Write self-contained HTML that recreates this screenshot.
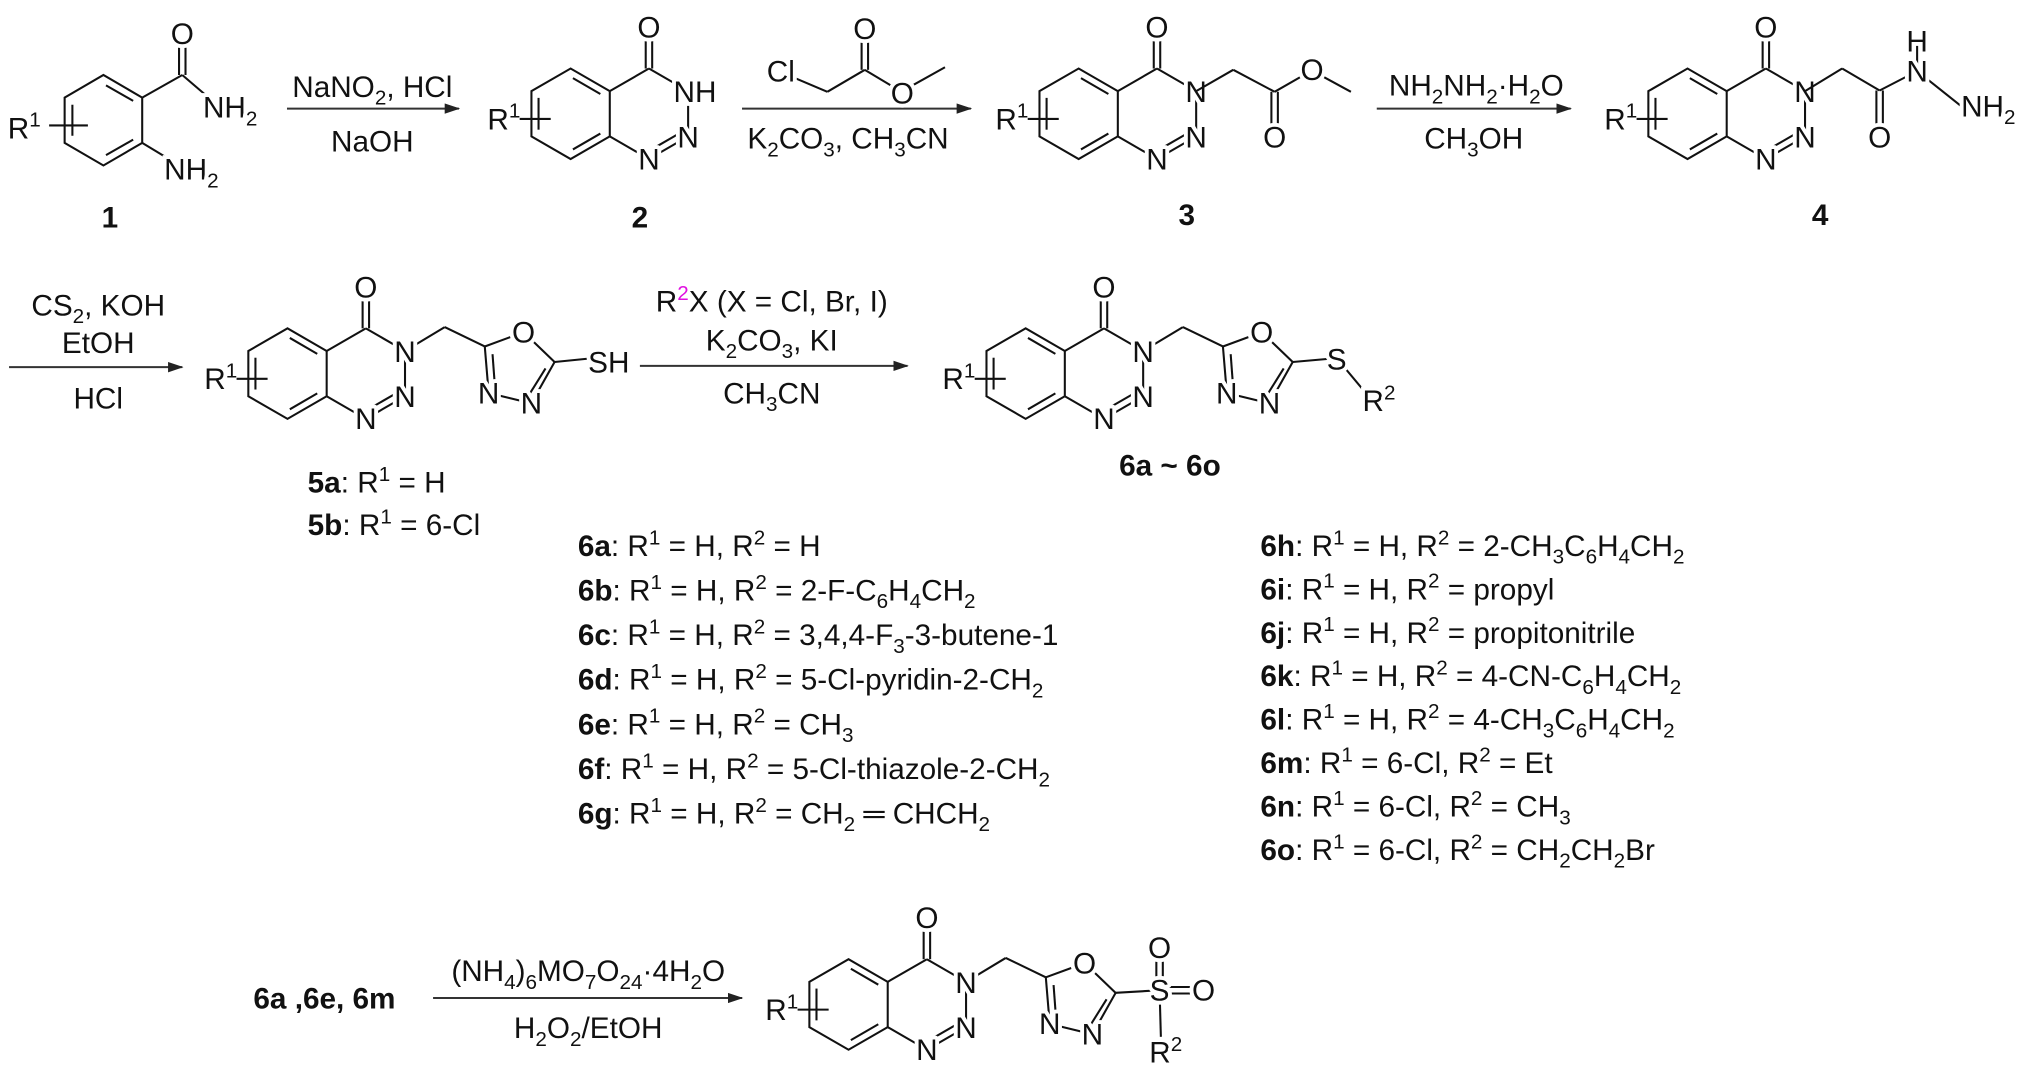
<!DOCTYPE html>
<html><head><meta charset="utf-8"><style>
html,body{margin:0;padding:0;background:#fff;}
svg{display:block;}
text{font-family:"Liberation Sans",Arial,sans-serif;font-size:23px;fill:#111;}
.a{paint-order:stroke;stroke:#fff;stroke-width:6px;stroke-linejoin:round;text-anchor:middle;}
.b{font-weight:bold;}
.m{text-anchor:middle;}
line,polyline{stroke:#111;stroke-width:1.6;fill:none;}
.ar{stroke:#333;stroke-width:1.6;}
</style></head><body>
<svg width="2027" height="1073" viewBox="0 0 1568 830" xmlns="http://www.w3.org/2000/svg">
<defs>
<marker id="ah" viewBox="0 0 12 8" refX="11" refY="4" markerWidth="12" markerHeight="8" markerUnits="userSpaceOnUse" orient="auto"><path d="M0,0 L12,4 L0,8 Z" fill="#222"/></marker>
<g id="core">
<polyline points="-30.3,-17.5 -60.6,-35 -90.9,-17.5 -90.9,17.5 -60.6,35 -30.3,17.5"/>
<line x1="-30.3" y1="-17.5" x2="-30.3" y2="17.5"/>
<line x1="-58.8" y1="-27.6" x2="-37.6" y2="-15.3"/>
<line x1="-85.4" y1="-12.3" x2="-85.4" y2="12.3"/>
<line x1="-58.8" y1="27.6" x2="-37.6" y2="15.3"/>
<line x1="-30.3" y1="-17.5" x2="0" y2="-35"/>
<line x1="0" y1="-35" x2="30.3" y2="-17.5"/>
<line x1="30.3" y1="-17.5" x2="30.3" y2="17.5"/>
<line x1="30.3" y1="17.5" x2="0" y2="35"/>
<line x1="25.5" y1="14" x2="3" y2="27"/>
<line x1="0" y1="35" x2="-30.3" y2="17.5"/>
<line x1="-2.5" y1="-35" x2="-2.5" y2="-60"/>
<line x1="2.5" y1="-35" x2="2.5" y2="-60"/>
<line x1="-100" y1="4" x2="-76" y2="4"/>
<text class="a" x="0" y="-59">O</text>
<text class="a" x="30.3" y="26">N</text>
<text class="a" x="0" y="43">N</text>
<text x="-125" y="12">R<tspan dy="-9" font-size="16">1</tspan></text>
</g>
<g id="oxa">
<line x1="30.3" y1="-17.5" x2="61" y2="-36"/>
<line x1="61" y1="-36" x2="92" y2="-21"/>
<line x1="92" y1="-21" x2="113.5" y2="-28.9"/>
<line x1="128.5" y1="-25.8" x2="146" y2="-9"/>
<line x1="146" y1="-9" x2="128" y2="23"/>
<line x1="139" y1="-4" x2="124" y2="20"/>
<line x1="128" y1="23" x2="95" y2="15"/>
<line x1="95" y1="15" x2="92" y2="-21"/>
<line x1="100" y1="12" x2="98" y2="-15"/>
<text class="a" x="122" y="-24">O</text>
<text class="a" x="128" y="31">N</text>
<text class="a" x="95" y="23">N</text>
</g>
</defs>

<!-- compound 1 -->
<polyline points="110,75.5 80,58 50,75.5 50,110.5 80,128 110,110.5 110,75.5"/>
<line x1="82" y1="66" x2="103" y2="78"/>
<line x1="56" y1="81" x2="56" y2="105"/>
<line x1="82" y1="120" x2="103" y2="108"/>
<line x1="110" y1="75.5" x2="141" y2="58"/>
<line x1="138.5" y1="58" x2="138.5" y2="30"/>
<line x1="143.5" y1="58" x2="143.5" y2="30"/>
<line x1="141" y1="58" x2="162" y2="76"/>
<line x1="110" y1="110.5" x2="134" y2="125"/>
<line x1="38" y1="97" x2="68" y2="97"/>
<text class="a" x="141" y="34">O</text>
<text x="157" y="91" style="paint-order:stroke;stroke:#fff;stroke-width:6px">NH<tspan dy="6" font-size="16">2</tspan></text>
<text x="127" y="139" style="paint-order:stroke;stroke:#fff;stroke-width:6px">NH<tspan dy="6" font-size="16">2</tspan></text>
<text x="6" y="107">R<tspan dy="-9" font-size="16">1</tspan></text>
<text class="b m" x="85" y="176">1</text>

<!-- arrow 1 -->
<line class="ar" x1="222" y1="84" x2="355" y2="84" marker-end="url(#ah)"/>
<text class="m" x="288" y="75">NaNO<tspan dy="6" font-size="16">2</tspan><tspan dy="-6">, HCl</tspan></text>
<text class="m" x="288" y="117">NaOH</text>

<!-- compound 2 -->
<use href="#core" x="502" y="88"/>
<text x="521" y="79" style="paint-order:stroke;stroke:#fff;stroke-width:6px">NH</text>
<text class="b m" x="495" y="176">2</text>

<!-- arrow 2 -->
<line class="ar" x1="574" y1="84" x2="751" y2="84" marker-end="url(#ah)"/>
<line x1="614" y1="60" x2="640" y2="71"/>
<line x1="640" y1="71" x2="669" y2="54"/>
<line x1="666.5" y1="54" x2="666.5" y2="28"/>
<line x1="671.5" y1="54" x2="671.5" y2="28"/>
<line x1="669" y1="54" x2="689" y2="66"/>
<line x1="706" y1="66" x2="731" y2="52"/>
<text class="a" x="604" y="63">Cl</text>
<text class="a" x="669" y="30">O</text>
<text class="a" x="698" y="80">O</text>
<text class="m" x="656" y="115">K<tspan dy="6" font-size="16">2</tspan><tspan dy="-6">CO</tspan><tspan dy="6" font-size="16">3</tspan><tspan dy="-6">, CH</tspan><tspan dy="6" font-size="16">3</tspan><tspan dy="-6">CN</tspan></text>

<!-- compound 3 -->
<use href="#core" x="895" y="88"/>
<text class="a" x="925.3" y="79">N</text>
<line x1="925.3" y1="70.5" x2="954" y2="54"/>
<line x1="954" y1="54" x2="986" y2="71"/>
<line x1="983.5" y1="71" x2="983.5" y2="100"/>
<line x1="988.5" y1="71" x2="988.5" y2="100"/>
<line x1="986" y1="71" x2="1007" y2="59"/>
<line x1="1023" y1="59" x2="1045" y2="71"/>
<text class="a" x="986" y="114">O</text>
<text class="a" x="1015" y="62">O</text>
<text class="b m" x="918" y="174">3</text>

<!-- arrow 3 -->
<line class="ar" x1="1065" y1="84" x2="1215" y2="84" marker-end="url(#ah)"/>
<text class="m" x="1142" y="74">NH<tspan dy="6" font-size="16">2</tspan><tspan dy="-6">NH</tspan><tspan dy="6" font-size="16">2</tspan><tspan dy="-6">·H</tspan><tspan dy="6" font-size="16">2</tspan><tspan dy="-6">O</tspan></text>
<text class="m" x="1140" y="115">CH<tspan dy="6" font-size="16">3</tspan><tspan dy="-6">OH</tspan></text>

<!-- compound 4 -->
<use href="#core" x="1366" y="88"/>
<text class="a" x="1396.3" y="79">N</text>
<line x1="1396.3" y1="70.5" x2="1425" y2="53"/>
<line x1="1425" y1="53" x2="1454" y2="70"/>
<line x1="1451.5" y1="70" x2="1451.5" y2="100"/>
<line x1="1456.5" y1="70" x2="1456.5" y2="100"/>
<line x1="1454" y1="70" x2="1483" y2="55"/>
<line x1="1483" y1="55" x2="1483" y2="34"/>
<line x1="1483" y1="55" x2="1517" y2="82"/>
<text class="a" x="1454" y="114">O</text>
<text class="a" x="1483" y="63">N</text>
<text class="a" x="1483" y="40">H</text>
<text x="1517" y="90" style="paint-order:stroke;stroke:#fff;stroke-width:6px">NH<tspan dy="6" font-size="16">2</tspan></text>
<text class="b m" x="1408" y="174">4</text>

<!-- row 2 arrow 1 -->
<line class="ar" x1="7" y1="284" x2="141" y2="284" marker-end="url(#ah)"/>
<text class="m" x="76" y="244">CS<tspan dy="6" font-size="16">2</tspan><tspan dy="-6">, KOH</tspan></text>
<text class="m" x="76" y="273">EtOH</text>
<text class="m" x="76" y="316">HCl</text>

<!-- compound 5 -->
<g transform="translate(283,289)">
<use href="#core"/>
<use href="#oxa"/>
<text class="a" x="30.3" y="-9">N</text>
<line x1="146" y1="-9" x2="176" y2="-12"/>
<text x="172" y="-1" style="paint-order:stroke;stroke:#fff;stroke-width:6px">SH</text>
</g>
<text x="238" y="381"><tspan class="b">5a</tspan>: R<tspan dy="-9" font-size="16">1</tspan><tspan dy="9"> = H</tspan></text>
<text x="238" y="414"><tspan class="b">5b</tspan>: R<tspan dy="-9" font-size="16">1</tspan><tspan dy="9"> = 6-Cl</tspan></text>

<!-- row 2 arrow 2 -->
<line class="ar" x1="495" y1="283" x2="702" y2="283" marker-end="url(#ah)"/>
<text class="m" x="597" y="241">R<tspan dy="-9" font-size="16" fill="#e010e0">2</tspan><tspan dy="9">X (X = Cl, Br, I)</tspan></text>
<text class="m" x="597" y="271">K<tspan dy="6" font-size="16">2</tspan><tspan dy="-6">CO</tspan><tspan dy="6" font-size="16">3</tspan><tspan dy="-6">, KI</tspan></text>
<text class="m" x="597" y="312">CH<tspan dy="6" font-size="16">3</tspan><tspan dy="-6">CN</tspan></text>

<!-- compound 6 -->
<g transform="translate(854,289)">
<use href="#core"/>
<use href="#oxa"/>
<text class="a" x="30.3" y="-9">N</text>
<line x1="146" y1="-9" x2="180" y2="-12"/>
<line x1="180" y1="-12" x2="200" y2="12"/>
<text class="a" x="180" y="-3">S</text>
<text x="200" y="29" style="paint-order:stroke;stroke:#fff;stroke-width:6px">R<tspan dy="-9" font-size="16">2</tspan></text>
</g>
<text class="b m" x="905" y="368">6a ~ 6o</text>

<!-- lists -->
<g>
<text x="447" y="430"><tspan class="b">6a</tspan>: R<tspan dy="-9" font-size="16">1</tspan><tspan dy="9"> = H, R</tspan><tspan dy="-9" font-size="16">2</tspan><tspan dy="9"> = H</tspan></text>
<text x="447" y="464.5"><tspan class="b">6b</tspan>: R<tspan dy="-9" font-size="16">1</tspan><tspan dy="9"> = H, R</tspan><tspan dy="-9" font-size="16">2</tspan><tspan dy="9"> = 2-F-C</tspan><tspan dy="6" font-size="16">6</tspan><tspan dy="-6">H</tspan><tspan dy="6" font-size="16">4</tspan><tspan dy="-6">CH</tspan><tspan dy="6" font-size="16">2</tspan></text>
<text x="447" y="499"><tspan class="b">6c</tspan>: R<tspan dy="-9" font-size="16">1</tspan><tspan dy="9"> = H, R</tspan><tspan dy="-9" font-size="16">2</tspan><tspan dy="9"> = 3,4,4-F</tspan><tspan dy="6" font-size="16">3</tspan><tspan dy="-6">-3-butene-1</tspan></text>
<text x="447" y="533.5"><tspan class="b">6d</tspan>: R<tspan dy="-9" font-size="16">1</tspan><tspan dy="9"> = H, R</tspan><tspan dy="-9" font-size="16">2</tspan><tspan dy="9"> = 5-Cl-pyridin-2-CH</tspan><tspan dy="6" font-size="16">2</tspan></text>
<text x="447" y="568"><tspan class="b">6e</tspan>: R<tspan dy="-9" font-size="16">1</tspan><tspan dy="9"> = H, R</tspan><tspan dy="-9" font-size="16">2</tspan><tspan dy="9"> = CH</tspan><tspan dy="6" font-size="16">3</tspan></text>
<text x="447" y="602.5"><tspan class="b">6f</tspan>: R<tspan dy="-9" font-size="16">1</tspan><tspan dy="9"> = H, R</tspan><tspan dy="-9" font-size="16">2</tspan><tspan dy="9"> = 5-Cl-thiazole-2-CH</tspan><tspan dy="6" font-size="16">2</tspan></text>
<text x="447" y="637"><tspan class="b">6g</tspan>: R<tspan dy="-9" font-size="16">1</tspan><tspan dy="9"> = H, R</tspan><tspan dy="-9" font-size="16">2</tspan><tspan dy="9"> = CH</tspan><tspan dy="6" font-size="16">2</tspan><tspan dy="-6"> ═ CHCH</tspan><tspan dy="6" font-size="16">2</tspan></text>

<text x="975" y="430"><tspan class="b">6h</tspan>: R<tspan dy="-9" font-size="16">1</tspan><tspan dy="9"> = H, R</tspan><tspan dy="-9" font-size="16">2</tspan><tspan dy="9"> = 2-CH</tspan><tspan dy="6" font-size="16">3</tspan><tspan dy="-6">C</tspan><tspan dy="6" font-size="16">6</tspan><tspan dy="-6">H</tspan><tspan dy="6" font-size="16">4</tspan><tspan dy="-6">CH</tspan><tspan dy="6" font-size="16">2</tspan></text>
<text x="975" y="463.6"><tspan class="b">6i</tspan>: R<tspan dy="-9" font-size="16">1</tspan><tspan dy="9"> = H, R</tspan><tspan dy="-9" font-size="16">2</tspan><tspan dy="9"> = propyl</tspan></text>
<text x="975" y="497.2"><tspan class="b">6j</tspan>: R<tspan dy="-9" font-size="16">1</tspan><tspan dy="9"> = H, R</tspan><tspan dy="-9" font-size="16">2</tspan><tspan dy="9"> = propitonitrile</tspan></text>
<text x="975" y="530.8"><tspan class="b">6k</tspan>: R<tspan dy="-9" font-size="16">1</tspan><tspan dy="9"> = H, R</tspan><tspan dy="-9" font-size="16">2</tspan><tspan dy="9"> = 4-CN-C</tspan><tspan dy="6" font-size="16">6</tspan><tspan dy="-6">H</tspan><tspan dy="6" font-size="16">4</tspan><tspan dy="-6">CH</tspan><tspan dy="6" font-size="16">2</tspan></text>
<text x="975" y="564.4"><tspan class="b">6l</tspan>: R<tspan dy="-9" font-size="16">1</tspan><tspan dy="9"> = H, R</tspan><tspan dy="-9" font-size="16">2</tspan><tspan dy="9"> = 4-CH</tspan><tspan dy="6" font-size="16">3</tspan><tspan dy="-6">C</tspan><tspan dy="6" font-size="16">6</tspan><tspan dy="-6">H</tspan><tspan dy="6" font-size="16">4</tspan><tspan dy="-6">CH</tspan><tspan dy="6" font-size="16">2</tspan></text>
<text x="975" y="598"><tspan class="b">6m</tspan>: R<tspan dy="-9" font-size="16">1</tspan><tspan dy="9"> = 6-Cl, R</tspan><tspan dy="-9" font-size="16">2</tspan><tspan dy="9"> = Et</tspan></text>
<text x="975" y="631.6"><tspan class="b">6n</tspan>: R<tspan dy="-9" font-size="16">1</tspan><tspan dy="9"> = 6-Cl, R</tspan><tspan dy="-9" font-size="16">2</tspan><tspan dy="9"> = CH</tspan><tspan dy="6" font-size="16">3</tspan></text>
<text x="975" y="665.2"><tspan class="b">6o</tspan>: R<tspan dy="-9" font-size="16">1</tspan><tspan dy="9"> = 6-Cl, R</tspan><tspan dy="-9" font-size="16">2</tspan><tspan dy="9"> = CH</tspan><tspan dy="6" font-size="16">2</tspan><tspan dy="-6">CH</tspan><tspan dy="6" font-size="16">2</tspan><tspan dy="-6">Br</tspan></text>
</g>

<!-- bottom row -->
<text class="b" x="196" y="780">6a ,6e, 6m</text>
<line class="ar" x1="335" y1="772" x2="574" y2="772" marker-end="url(#ah)"/>
<text class="m" x="455" y="759">(NH<tspan dy="6" font-size="16">4</tspan><tspan dy="-6">)</tspan><tspan dy="6" font-size="16">6</tspan><tspan dy="-6">MO</tspan><tspan dy="6" font-size="16">7</tspan><tspan dy="-6">O</tspan><tspan dy="6" font-size="16">24</tspan><tspan dy="-6">·4H</tspan><tspan dy="6" font-size="16">2</tspan><tspan dy="-6">O</tspan></text>
<text class="m" x="455" y="803">H<tspan dy="6" font-size="16">2</tspan><tspan dy="-6">O</tspan><tspan dy="6" font-size="16">2</tspan><tspan dy="-6">/EtOH</tspan></text>

<g transform="translate(717,777)">
<use href="#core"/>
<use href="#oxa"/>
<text class="a" x="30.3" y="-9">N</text>
<line x1="146" y1="-9" x2="180" y2="-11"/>
<line x1="177.5" y1="-11" x2="177.5" y2="-38"/>
<line x1="182.5" y1="-11" x2="182.5" y2="-38"/>
<line x1="180" y1="-13.5" x2="210" y2="-13.5"/>
<line x1="180" y1="-8.5" x2="210" y2="-8.5"/>
<line x1="180" y1="-11" x2="181" y2="25"/>
<text class="a" x="180" y="-3">S</text>
<text class="a" x="180" y="-36">O</text>
<text class="a" x="214" y="-3">O</text>
<text x="172" y="45" style="paint-order:stroke;stroke:#fff;stroke-width:6px">R<tspan dy="-9" font-size="16">2</tspan></text>
</g>
</svg>
</body></html>
